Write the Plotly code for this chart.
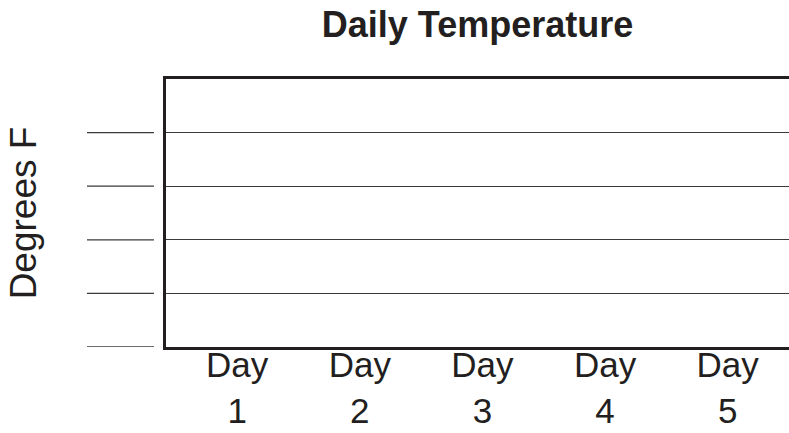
import plotly.graph_objects as go

# Data (blank template: categories only, no recorded temperatures)
days = ["Day<br>1", "Day<br>2", "Day<br>3", "Day<br>4", "Day<br>5"]
temperatures = [None, None, None, None, None]
grid_values = [1, 2, 3, 4]
blank_label_lines = [0, 1, 2, 3, 4]
title_text = "Daily Temperature"
y_title = "Degrees F"

INK = "#231f20"
FONT = "Liberation Sans, Arial, Helvetica, sans-serif"

fig = go.Figure()
fig.add_trace(go.Scatter(x=days, y=temperatures, mode="markers",
                         showlegend=False, hoverinfo="skip"))

# short blank lines on the left for writing the scale values
for v in blank_label_lines:
    fig.add_shape(type="line", xref="paper", yref="y",
                  x0=-0.1268, x1=-0.0193, y0=v, y1=v,
                  line=dict(color="#3a3a3a", width=1.3))

fig.update_layout(
    width=789, height=433,
    margin=dict(l=166, r=0, t=79, b=86),
    paper_bgcolor="white", plot_bgcolor="white",
    font=dict(family=FONT, color=INK),
    title=dict(text="<b>" + title_text + "</b>", x=0.5, xref="paper",
               xanchor="center", y=0.973, yref="container", yanchor="top",
               font=dict(size=36, family=FONT, color=INK)),
    xaxis=dict(type="category", categoryorder="array", categoryarray=days,
               range=[-0.58, 4.5], showgrid=False, zeroline=False,
               showline=True, mirror=True, linecolor=INK, linewidth=3,
               ticks="", tickfont=dict(size=35, family=FONT, color=INK),
               ticklabelstandoff=-15, automargin=False),
    yaxis=dict(range=[0, 5], tickvals=grid_values, showticklabels=False,
               showgrid=True, gridcolor="#3a3a3a", gridwidth=1.3,
               zeroline=False, showline=True, linecolor=INK, linewidth=3,
               ticks="", automargin=False,
               title=dict(text=y_title, standoff=116,
                          font=dict(size=37, family=FONT, color=INK))),
)

fig.write_html("out.html",
               config={"displayModeBar": False, "staticPlot": True},
               post_script="document.body.style.margin='0';"
                           "document.body.style.overflow='hidden';")
